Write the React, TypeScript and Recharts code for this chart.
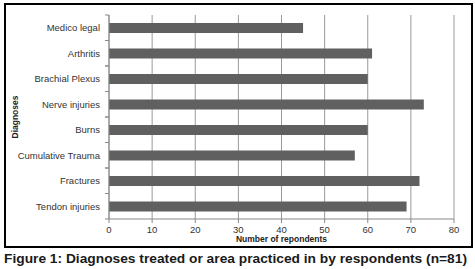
import React from 'react';
import { BarChart, Bar, XAxis, YAxis, CartesianGrid } from 'recharts';

const categories = [
  'Medico legal',
  'Arthritis',
  'Brachial Plexus',
  'Nerve injuries',
  'Burns',
  'Cumulative Trauma',
  'Fractures',
  'Tendon injuries',
];
const respondents = [45, 61, 60, 73, 60, 57, 72, 69];
const xTicks = [0, 10, 20, 30, 40, 50, 60, 70, 80];

const data = categories.map((name, i) => ({ name, value: respondents[i] }));

const FONT = '"Liberation Sans", Arial, sans-serif';

const YTick = (props: any) => {
  const { x, y, payload } = props;
  const half = 12.75;
  return (
    <g>
      <line x1={x + 5} x2={x + 9} y1={y - half} y2={y - half} stroke="#888" />
      <line x1={x + 5} x2={x + 9} y1={y + half} y2={y + half} stroke="#888" />
      <text x={x} y={y} dy="0.35em" textAnchor="end" fontSize={9.5} fill="#333" fontFamily={FONT}>
        {payload.value}
      </text>
    </g>
  );
};

const XTick = (props: any) => {
  const { x, y, payload } = props;
  return (
    <text x={x} y={y} dy="0.71em" textAnchor="middle" fontSize={9.5} fill="#333" fontFamily={FONT}>
      {payload.value}
    </text>
  );
};

export default function App() {
  return (
    <div style={{ position: 'absolute', left: 0, top: 0, width: 475, height: 269, background: '#fff' }}>
      <div
        style={{
          position: 'absolute',
          left: 4,
          top: 3,
          width: 469,
          height: 245,
          boxSizing: 'border-box',
          border: '2px solid #000',
        }}
      />
      <div style={{ position: 'absolute', left: 0, top: 0 }}>
        <BarChart
          width={475}
          height={250}
          data={data}
          layout="vertical"
          margin={{ top: 15, right: 21, left: 0, bottom: 0 }}
        >
          <CartesianGrid horizontal={false} vertical={true} stroke="#9a9a9a" />
          <XAxis
            type="number"
            domain={[0, 80]}
            ticks={xTicks}
            height={31}
            stroke="#888"
            tickSize={4}
            tickMargin={3}
            tick={<XTick />}
            label={(p: any) => {
              const vb = p.viewBox || {};
              return (
                <text
                  x={vb.x + vb.width / 2}
                  y={vb.y + 23}
                  textAnchor="middle"
                  fontSize={8.5}
                  fontWeight="bold"
                  fill="#222"
                  fontFamily={FONT}
                >
                  Number of repondents
                </text>
              );
            }}
          />
          <YAxis
            type="category"
            dataKey="name"
            width={109}
            stroke="#888"
            tickLine={false}
            tickSize={4}
            tickMargin={5}
            interval={0}
            tick={<YTick />}
            label={(p: any) => {
              const vb = p.viewBox || {};
              const cx = 15;
              const cy = vb.y + vb.height / 2;
              return (
                <text
                  x={cx}
                  y={cy}
                  transform={`rotate(-90 ${cx} ${cy})`}
                  textAnchor="middle"
                  dy="0.35em"
                  fontSize={8.5}
                  fontWeight="bold"
                  fill="#222"
                  fontFamily={FONT}
                >
                  Diagnoses
                </text>
              );
            }}
          />
          <Bar dataKey="value" fill="#606060" barSize={10} isAnimationActive={false} />
        </BarChart>
      </div>
      <svg style={{ position: 'absolute', left: 0, top: 0 }} width={475} height={269}>
        <text
          x={4}
          y={263}
          textLength={463}
          lengthAdjust="spacingAndGlyphs"
          fontSize={12}
          fontWeight="bold"
          fill="#1a1a1a"
          fontFamily={FONT}
        >
          Figure 1: Diagnoses treated or area practiced in by respondents (n=81)
        </text>
      </svg>
    </div>
  );
}
